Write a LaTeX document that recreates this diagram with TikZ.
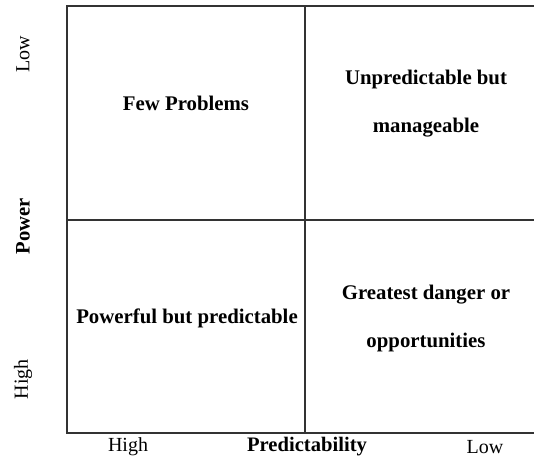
\documentclass[tikz,border=0pt]{standalone}
\usepackage{fontspec}
\setmainfont{Liberation Serif}
\begin{document}
\begin{tikzpicture}[x=1pt,y=-1pt,
  grid/.style={draw=black!80,line width=1.3pt},
  cell/.style={font=\fontsize{20.8}{48}\selectfont\bfseries,align=center,inner sep=0pt},
  axis/.style={font=\fontsize{20}{22}\selectfont,inner sep=0pt},
  axisb/.style={font=\fontsize{20.6}{22}\selectfont\bfseries,inner sep=0pt}]
\useasboundingbox (0,0) rectangle (534,457);
\coordinate (tl) at (67,6);
\coordinate (tr) at (534,6);
\coordinate (bl) at (67,433);
\coordinate (br) at (534,433);
\coordinate (mt) at (305,6);
\coordinate (mb) at (305,433);
\coordinate (ml) at (67,220);
\coordinate (mr) at (534,220);
\draw[grid] (tr) -- (tl) -- (bl) -- (br);
\draw[grid] (mt) -- (mb);
\draw[grid] (ml) -- (mr);
\node[cell] (q1) at (186,103) {Few Problems};
\node[cell] (q2) at (426,104) {Unpredictable but\\manageable};
\node[cell] (q3) at (187,318) {Powerful but predictable};
\node[cell] (q4) at (426,318) {Greatest danger or\\opportunities};
\node[axis] (xh) at (128,447) {High};
\node[axisb] (xp) at (307,447) {Predictability};
\node[axis] (xl) at (485,447) {Low};
\node[axis,rotate=90] (yl) at (23,54) {Low};
\node[axisb,rotate=90] (yp) at (23,226) {Power};
\node[axis,rotate=90] (yh) at (23,379) {High};
\end{tikzpicture}
\end{document}
